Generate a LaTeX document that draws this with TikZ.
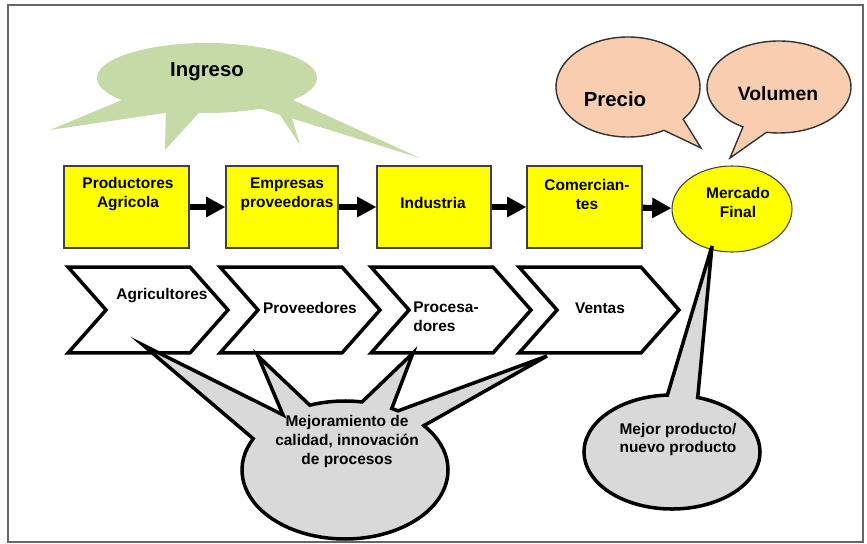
\documentclass[tikz,border=0pt]{standalone}
\usepackage{fontspec}
\setmainfont{Liberation Sans}
\usetikzlibrary{arrows.meta, shapes.geometric, shapes.symbols, calc}

\definecolor{boxyellow}{RGB}{255,255,0}
\definecolor{ingresogreen}{RGB}{198,218,168}
\definecolor{peach}{RGB}{249,206,176}
\definecolor{calloutgray}{RGB}{217,217,217}

\begin{document}
\begin{tikzpicture}[x=0.02cm, y=-0.02cm,
                        every node/.style={font=\bfseries\fontsize{8.8}{10.8}\selectfont, align=center, inner sep=0pt},
                        flow/.style={line width=3.5pt, -{Triangle[length=11pt, width=11pt]}}
                    ]

    % Define custom styles for boxes, chevrons and callouts
    \tikzset{
        box/.style={rectangle, draw=black!75, line width=0.6pt, fill=boxyellow, minimum width=#1, minimum height=1.64cm}
    }
    \tikzset{
        chevron/.style={signal, signal from=west, signal to=east, signal pointer angle=97, draw, line width=2pt, fill=white, minimum width=3.2cm, minimum height=1.72cm}
    }
    \tikzset{
        peachcall/.style={draw=black!80, line width=0.8pt, fill=peach},
        graycall/.style={draw=black, line width=2pt, fill=calloutgray},
        bigtext/.style={font=\bfseries\fontsize{11.6}{14}\selectfont}
    }

    \useasboundingbox (0,0) rectangle (867,544);
    \draw[black!60, line width=0.6pt] (8,5) rectangle (863,542);

    % Ingreso cloud
    \fill[ingresogreen] (207,78) ellipse [x radius=110, y radius=35];
    \fill[ingresogreen] (134,95) -- (50,130) -- (185,110) -- cycle;
    \fill[ingresogreen] (166,104) -- (165,150) -- (206,105) -- cycle;
    \fill[ingresogreen] (270,100) -- (300,145) -- (286,98) -- cycle;
    \fill[ingresogreen] (280,94) -- (420,158) -- (255,107) -- cycle;
    \node[bigtext] (ingreso) at (207,72) {Ingreso};

    % Precio and Volumen callouts
    \coordinate (P0) at (628,87);
    \coordinate (tipP) at (701,148);
    \draw[peachcall] ($(P0)+(60:72 and 50)$) arc[start angle=60, end angle=400, x radius=72, y radius=50] -- (tipP) -- cycle;
    \node[bigtext] (precio) at (615,99) {Precio};

    \coordinate (V0) at (779,87);
    \coordinate (tipV) at (730,158);
    \draw[peachcall] ($(V0)+(120:72 and 46)$) arc[start angle=120, end angle=460, x radius=72, y radius=46] -- (tipV) -- cycle;
    \node[bigtext, font=\bfseries\fontsize{11}{13}\selectfont] (volumen) at (778,94) {Volumen};

    % Row of boxes
    \node[box=2.5cm] (B1) at (126.5,207) {};
    \node[box=2.24cm] (B2) at (282,207) {};
    \node[box=2.28cm] (B3) at (434,207) {};
    \node[box=2.3cm] (B4) at (584.5,207) {};
    \node[ellipse, draw=black!75, line width=0.6pt, fill=boxyellow, minimum width=2.4cm, minimum height=1.72cm] (M) at (732,209) {};

    \node (tB1) at (128,194) {Productores\\Agricola};
    \node (tB2) at (287,194) {Empresas\\proveedoras};
    \node (tB3) at (433,203) {Industria};
    \node (tB4) at (587,194) {Comercian-\\tes};
    \node (tM) at (738,202) {Mercado\\Final};

    % Arrows between boxes
    \foreach \i in {1,2,3} {
        \pgfmathtruncatemacro{\iplusone}{\i+1}
        \draw[flow] (B\i) -- (B\iplusone);
    }
    \draw[flow] (B4) -- (M);

    % Row of chevrons
    \node[chevron] (C1) at (148,310) {};
    \node[chevron] (C2) at (300,310) {};
    \node[chevron] (C3) at (451,310) {};
    \node[chevron] (C4) at (599,310) {};

    \node (tC1) at (162,296) {Agricultores};
    \node (tC2) at (310,308) {Proveedores};
    \node[anchor=west, align=left] (tC3) at (413,316.5) {Procesa-\\dores};
    \node (tC4) at (600,308) {Ventas};

    % Mejoramiento callout
    \coordinate (G0) at (345,470);
    \coordinate (tipA) at (143,345);
    \coordinate (tipB) at (258,356);
    \coordinate (tipC) at (413,353);
    \coordinate (tipD) at (547,356);
    \draw[graycall, line join=miter] ($(G0)+(-40:103 and 69)$) arc[start angle=-40, end angle=207, x radius=103, y radius=69]
        -- (tipA) -- ($(G0)+(233:103 and 69)$)
        -- (tipB) -- ($(G0)+(250:103 and 69)$) arc[start angle=250, end angle=279.5, x radius=103, y radius=69]
        -- (tipC) -- ($(G0)+(297:103 and 69)$) arc[start angle=297, end angle=301, x radius=103, y radius=69]
        -- (tipD) -- cycle;
    \node (mejora) at (347,441.5) {Mejoramiento de\\calidad, innovación\\de procesos};

    % Mejor producto callout
    \coordinate (N0) at (672,452);
    \coordinate (tipM) at (712,246);
    \draw[graycall] ($(N0)+(-73:88 and 57)$) arc[start angle=-73, end angle=267, x radius=88, y radius=57] -- (tipM) -- cycle;
    \node (mejor) at (678,439.5) {Mejor producto/\\nuevo producto};

\end{tikzpicture}
\end{document}
